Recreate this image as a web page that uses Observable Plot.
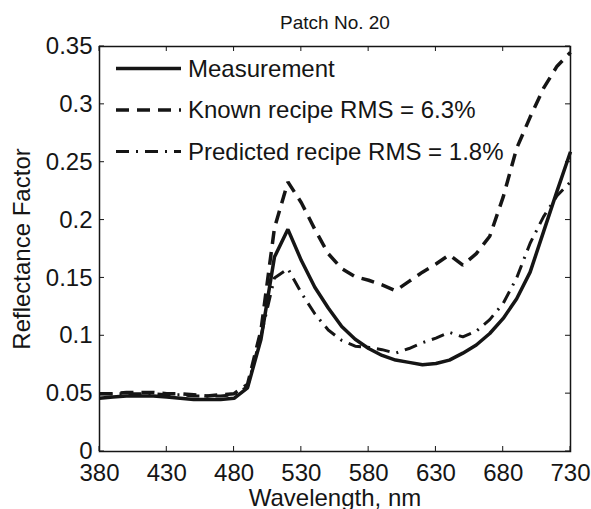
<!DOCTYPE html>
<html>
<head>
<meta charset="utf-8">
<script src="https://cdn.jsdelivr.net/npm/d3@7"></script>
<script src="https://cdn.jsdelivr.net/npm/@observablehq/plot@0.6"></script>
<style>
  html, body { margin: 0; padding: 0; background: #fff; }
  #chart svg { display: block; }
</style>
</head>
<body>
<div id="chart"></div>
<script>
const wavelengths = [380,390,400,410,420,430,440,450,460,470,480,490,500,510,520,530,540,550,560,570,580,590,600,610,620,630,640,650,660,670,680,690,700,710,720,730];
const measurement = [0.046,0.047,0.048,0.048,0.048,0.047,0.046,0.045,0.045,0.045,0.046,0.055,0.097,0.168,0.192,0.165,0.142,0.124,0.108,0.097,0.089,0.083,0.079,0.077,0.075,0.076,0.079,0.085,0.092,0.102,0.115,0.132,0.155,0.190,0.225,0.259];
const knownRecipe = [0.050,0.050,0.051,0.051,0.051,0.050,0.050,0.049,0.048,0.049,0.050,0.058,0.105,0.193,0.233,0.215,0.192,0.171,0.158,0.151,0.148,0.144,0.139,0.147,0.155,0.162,0.170,0.161,0.171,0.186,0.220,0.262,0.289,0.314,0.333,0.345];
const predictedRecipe = [0.050,0.050,0.050,0.050,0.050,0.049,0.049,0.048,0.048,0.048,0.049,0.056,0.100,0.150,0.158,0.137,0.119,0.105,0.096,0.091,0.090,0.088,0.085,0.089,0.094,0.098,0.103,0.099,0.104,0.114,0.128,0.150,0.180,0.203,0.221,0.233];

const seriesNames = ["Measurement", "Known recipe RMS = 6.3%", "Predicted recipe RMS = 1.8%"];
const xTicks = [380,430,480,530,580,630,680,730];
const xTickLabels = ["380","430","480","530","580","630","680","730"];
const yTicks = [0,0.05,0.1,0.15,0.2,0.25,0.3,0.35];
const yTickLabels = ["0","0.05","0.1","0.15","0.2","0.25","0.3","0.35"];
const chartTitle = "Patch No. 20";
const xLabel = "Wavelength, nm";
const yLabel = "Reflectance Factor";

const styles = [
  {stroke: "#151515", strokeWidth: 3.5, strokeDasharray: null},
  {stroke: "#151515", strokeWidth: 3.5, strokeDasharray: "13,8"},
  {stroke: "#151515", strokeWidth: 3, strokeDasharray: "13,7,2,7"}
];

const seriesValues = [measurement, knownRecipe, predictedRecipe];
const rows = seriesValues.flatMap((vals, s) => vals.map((v, i) => ({series: seriesNames[s], s, x: wavelengths[i], y: v})));

const ink = "#151515";
const font = "'Liberation Sans', Arial, Helvetica, sans-serif";
const tickLen = 5;

const chart = Plot.plot({
  width: 591,
  height: 509,
  marginLeft: 99,
  marginRight: 21,
  marginTop: 46,
  marginBottom: 58,
  style: {fontFamily: font, fontSize: "24px", color: ink, background: "#fff", overflow: "visible"},
  x: {domain: [380, 730]},
  y: {domain: [0, 0.35]},
  marks: [
    ...seriesNames.map((name, s) => Plot.line(rows.filter(d => d.s === s), {
      x: "x", y: "y",
      stroke: styles[s].stroke,
      strokeWidth: styles[s].strokeWidth,
      strokeDasharray: styles[s].strokeDasharray,
      strokeLinejoin: "miter",
      strokeLinecap: "butt"
    })).reverse(),
    Plot.frame({stroke: ink, strokeWidth: 1.5}),
    Plot.axisX(xTicks, {anchor: "bottom", tickSize: 0, tickPadding: 12, label: null, fontSize: 24,
      tickFormat: d => xTickLabels[xTicks.indexOf(d)]}),
    Plot.axisY(yTicks, {anchor: "left", tickSize: 0, tickPadding: 7, label: null, fontSize: 24,
      tickFormat: d => yTickLabels[yTicks.indexOf(d)]}),
    Plot.text([chartTitle], {frameAnchor: "top", dy: -24, fontSize: 19, fill: ink, lineAnchor: "middle", textAnchor: "middle"}),
    Plot.text([xLabel], {frameAnchor: "bottom", dy: 46.5, fontSize: 24, fill: ink, lineAnchor: "middle", textAnchor: "middle"}),
    Plot.text([yLabel], {frameAnchor: "left", dx: -77.5, rotate: -90, fontSize: 24, fill: ink, lineAnchor: "middle", textAnchor: "middle"})
  ]
});

const svg = d3.select(chart);
const sx = chart.scale("x"), sy = chart.scale("y");
const [frameLeft, frameRight] = sx.range;
const [frameBottom, frameTop] = sy.range;

// Inward ticks on all four sides, placed with the chart's own scales
const tg = svg.append("g").attr("stroke", ink).attr("stroke-width", 1);
xTicks.forEach(v => {
  const px = sx.apply(v);
  tg.append("line").attr("x1", px).attr("x2", px).attr("y1", frameBottom).attr("y2", frameBottom - tickLen);
  tg.append("line").attr("x1", px).attr("x2", px).attr("y1", frameTop).attr("y2", frameTop + tickLen);
});
yTicks.forEach(v => {
  const py = sy.apply(v);
  tg.append("line").attr("x1", frameLeft).attr("x2", frameLeft + tickLen).attr("y1", py).attr("y2", py);
  tg.append("line").attr("x1", frameRight).attr("x2", frameRight - tickLen).attr("y1", py).attr("y2", py);
});

// Legend inside the plot area (top-left)
const lg = svg.append("g").attr("class", "legend");
const lgX0 = 116, lgX1 = 181, lgTextX = 188, lgY0 = 68.5, lgStep = 41.5;
seriesNames.forEach((name, s) => {
  const ly = lgY0 + s * lgStep;
  lg.append("line")
    .attr("x1", lgX0).attr("x2", lgX1).attr("y1", ly).attr("y2", ly)
    .attr("stroke", styles[s].stroke)
    .attr("stroke-width", styles[s].strokeWidth)
    .attr("stroke-dasharray", styles[s].strokeDasharray);
  lg.append("text")
    .attr("x", lgTextX).attr("y", ly).attr("dy", "0.35em")
    .attr("fill", ink)
    .attr("text-anchor", "start")
    .style("font-family", font).style("font-size", "24px")
    .text(name);
});

document.getElementById("chart").appendChild(chart);
</script>
</body>
</html>
